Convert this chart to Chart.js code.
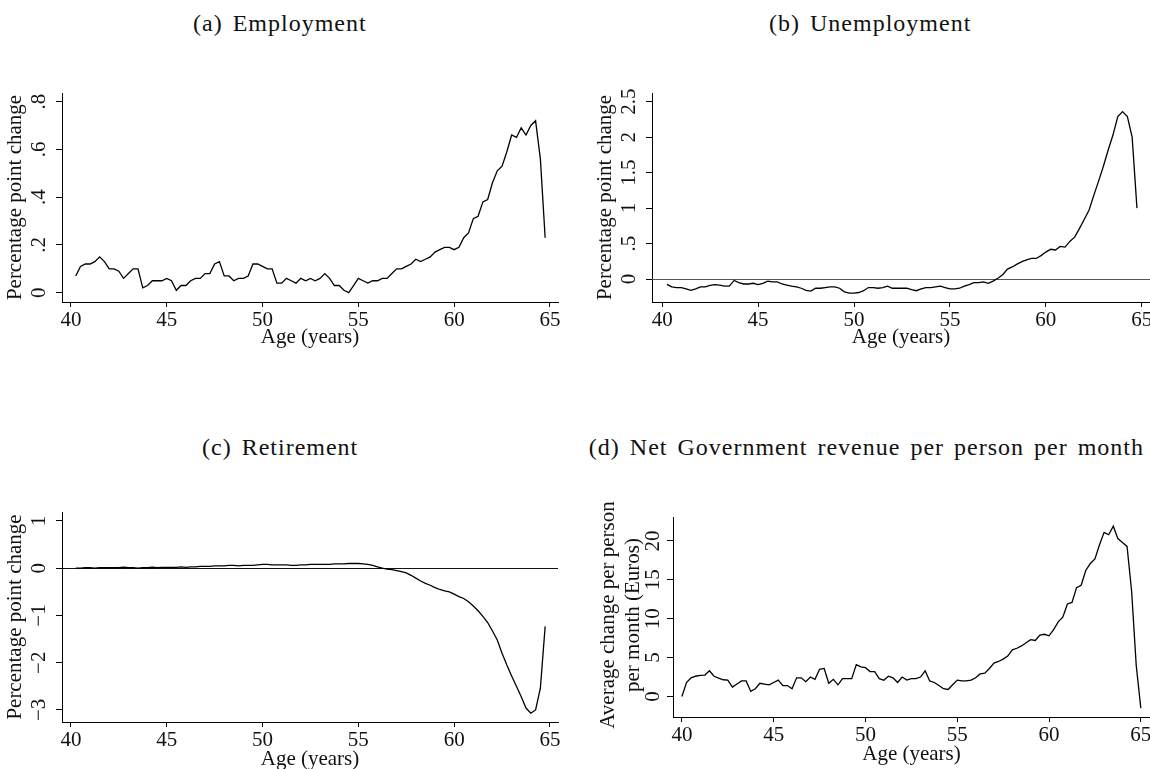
<!DOCTYPE html>
<html>
<head>
<meta charset="utf-8">
<script src="https://cdn.jsdelivr.net/npm/chart.js@4.4.0/dist/chart.umd.min.js"></script>
<style>
body{margin:0;background:#fff;width:1150px;height:769px;overflow:hidden;position:relative;font-family:"Liberation Serif",serif;}
.titulo{position:absolute;font-size:24px;letter-spacing:1px;word-spacing:3px;white-space:nowrap;color:#111;line-height:24px;}
.panel{position:absolute;}
</style>
</head>
<body>

<div class="titulo" id="tA" style="top:11px">(a) Employment</div>
<div class="titulo" id="tB" style="top:11px">(b) Unemployment</div>
<div class="titulo" id="tC" style="top:435px">(c) Retirement</div>
<div class="titulo" id="tD" style="top:435px;right:6px">(d) Net Government revenue per person per month</div>

<div class="panel" style="left:0px;top:73px;width:575px;height:289px"><canvas id="gA"></canvas></div>
<div class="panel" style="left:585px;top:73px;width:580px;height:289px"><canvas id="gB"></canvas></div>
<div class="panel" style="left:0px;top:490px;width:575px;height:292px"><canvas id="gC"></canvas></div>
<div class="panel" style="left:585px;top:490px;width:582px;height:287px"><canvas id="gD"></canvas></div>

<script>
// Edades (trimestral)
const edades = [40.25,40.5,40.75,41,41.25,41.5,41.75,42,42.25,42.5,42.75,43,43.25,43.5,43.75,44,44.25,44.5,44.75,45,
45.25,45.5,45.75,46,46.25,46.5,46.75,47,47.25,47.5,47.75,48,48.25,48.5,48.75,49,49.25,49.5,49.75,50,
50.25,50.5,50.75,51,51.25,51.5,51.75,52,52.25,52.5,52.75,53,53.25,53.5,53.75,54,54.25,54.5,54.75,55,
55.25,55.5,55.75,56,56.25,56.5,56.75,57,57.25,57.5,57.75,58,58.25,58.5,58.75,59,59.25,59.5,59.75,60,
60.25,60.5,60.75,61,61.25,61.5,61.75,62,62.25,62.5,62.75,63,63.25,63.5,63.75,64,64.25,64.5,64.75];

const edadesD = [40,40.25,40.5,40.75,41,41.25,41.5,41.75,42,42.25,42.5,42.75,43,43.25,43.5,43.75,44,44.25,44.5,44.75,45,
45.25,45.5,45.75,46,46.25,46.5,46.75,47,47.25,47.5,47.75,48,48.25,48.5,48.75,49,49.25,49.5,49.75,50,
50.25,50.5,50.75,51,51.25,51.5,51.75,52,52.25,52.5,52.75,53,53.25,53.5,53.75,54,54.25,54.5,54.75,55,
55.25,55.5,55.75,56,56.25,56.5,56.75,57,57.25,57.5,57.75,58,58.25,58.5,58.75,59,59.25,59.5,59.75,60,
60.25,60.5,60.75,61,61.25,61.5,61.75,62,62.25,62.5,62.75,63,63.25,63.5,63.75,64,64.25,64.5,64.75,65];

// Series
const empleo = [0.07,0.11,0.12,0.12,0.13,0.15,0.13,0.10,0.10,0.09,0.06,0.08,0.10,0.10,0.02,0.03,0.05,0.05,0.05,0.06,
0.05,0.01,0.03,0.03,0.05,0.06,0.06,0.08,0.08,0.12,0.13,0.07,0.07,0.05,0.06,0.06,0.07,0.12,0.12,0.11,
0.10,0.10,0.04,0.04,0.06,0.05,0.04,0.06,0.05,0.06,0.05,0.06,0.08,0.06,0.03,0.03,0.01,0.00,0.03,0.06,
0.05,0.04,0.05,0.05,0.06,0.06,0.08,0.10,0.10,0.11,0.12,0.14,0.13,0.14,0.15,0.17,0.18,0.19,0.19,0.18,
0.19,0.23,0.25,0.31,0.32,0.38,0.39,0.46,0.51,0.53,0.59,0.66,0.65,0.69,0.66,0.70,0.72,0.56,0.23];

const desempleo = [-0.075,-0.11,-0.12,-0.12,-0.14,-0.16,-0.14,-0.11,-0.11,-0.09,-0.08,-0.085,-0.10,-0.10,-0.02,-0.05,-0.07,-0.07,-0.06,-0.08,
-0.06,-0.03,-0.04,-0.04,-0.07,-0.085,-0.10,-0.11,-0.13,-0.16,-0.17,-0.13,-0.13,-0.12,-0.11,-0.11,-0.13,-0.18,-0.20,-0.20,
-0.19,-0.165,-0.12,-0.12,-0.13,-0.12,-0.10,-0.13,-0.13,-0.13,-0.13,-0.15,-0.165,-0.14,-0.12,-0.12,-0.11,-0.10,-0.12,-0.14,
-0.14,-0.13,-0.10,-0.08,-0.05,-0.05,-0.04,-0.06,-0.03,0.01,0.06,0.14,0.17,0.21,0.245,0.27,0.29,0.29,0.33,0.38,
0.42,0.41,0.46,0.45,0.53,0.59,0.71,0.84,0.97,1.18,1.38,1.59,1.82,2.03,2.29,2.36,2.29,2.00,1.00];

const jubilacion = [0.00,0.00,0.01,0.01,0.00,0.01,0.01,0.01,0.01,0.01,0.02,0.01,0.01,0.00,0.01,0.01,0.02,0.01,0.02,0.02,
0.02,0.02,0.03,0.02,0.03,0.03,0.04,0.04,0.04,0.05,0.05,0.05,0.06,0.06,0.05,0.06,0.06,0.06,0.07,0.08,
0.08,0.07,0.07,0.07,0.07,0.06,0.06,0.07,0.07,0.08,0.08,0.08,0.08,0.08,0.09,0.09,0.09,0.10,0.10,0.10,
0.09,0.08,0.06,0.03,0.00,-0.02,-0.03,-0.05,-0.07,-0.10,-0.15,-0.21,-0.27,-0.32,-0.36,-0.41,-0.45,-0.48,-0.50,-0.55,
-0.60,-0.64,-0.71,-0.80,-0.90,-1.02,-1.15,-1.33,-1.52,-1.80,-2.05,-2.28,-2.50,-2.72,-2.96,-3.07,-3.00,-2.54,-1.23];

const ingresos = [0.0,1.8,2.4,2.6,2.7,2.75,3.3,2.6,2.35,2.15,2.1,1.2,1.6,2.0,2.0,0.65,1.0,1.7,1.6,1.5,1.8,
2.1,1.4,1.4,1.0,2.4,2.4,1.9,2.5,2.2,3.5,3.6,1.7,2.2,1.5,2.3,2.3,2.3,4.1,3.8,3.7,
3.2,3.2,2.3,2.1,2.6,2.4,1.8,2.5,2.1,2.3,2.3,2.5,3.3,2.0,1.8,1.4,1.0,0.9,1.5,2.1,
2.0,2.0,2.1,2.4,2.9,3.0,3.6,4.3,4.5,4.8,5.2,6.0,6.2,6.5,6.9,7.3,7.2,7.9,8.0,7.8,
8.6,9.6,10.2,11.9,12.1,14.0,14.3,16.2,17.1,17.7,19.5,21.1,20.8,21.9,20.3,19.8,19.3,13.5,4.0,-1.5];

// Ticks
const ticksX = [40,45,50,55,60,65];
const etiquetasX = ['40','45','50','55','60','65'];
const ticksA = [0,0.2,0.4,0.6,0.8];
const etiquetasA = ['0','.2','.4','.6','.8'];
const ticksB = [0,0.5,1,1.5,2,2.5];
const etiquetasB = ['0','.5','1','1.5','2','2.5'];
const ticksC = [-3,-2,-1,0,1];
const etiquetasC = ['\u22123','\u22122','\u22121','0','1'];
const ticksD = [0,5,10,15,20];
const etiquetasD = ['0','5','10','15','20'];

const fuente = '"Liberation Serif", "Times New Roman", serif';

// Titulos centrados sobre cada columna
function centrar(id, cx){
let el = document.getElementById(id);
el.style.left = (cx - el.offsetWidth/2) + 'px';
}
centrar('tA', 280);
centrar('tB', 870);
centrar('tC', 280);

// Eje Y al estilo Stata: etiquetas giradas, titulo girado y linea de cero
const pluginY = {
id: 'pluginY',
beforeDatasetsDraw(chart, args, opts){
if(!opts.cero) return;
const ctx = chart.ctx, a = chart.chartArea;
const y0 = Math.round(chart.scales.y.getPixelForValue(0)) + 0.5;
ctx.save();
ctx.strokeStyle = opts.cero; ctx.lineWidth = 1;
ctx.beginPath(); ctx.moveTo(a.left, y0); ctx.lineTo(a.right, y0); ctx.stroke();
ctx.restore();
},
afterDraw(chart, args, opts){
const ctx = chart.ctx, a = chart.chartArea, ys = chart.scales.y;
ctx.save();
ctx.fillStyle = '#111';
ctx.font = '21px ' + fuente;
ctx.textAlign = 'center';
ctx.textBaseline = 'middle';
opts.valores.forEach((v, i) => {
ctx.save();
ctx.translate(a.left - opts.sep, ys.getPixelForValue(v));
ctx.rotate(-Math.PI/2);
ctx.fillText(opts.textos[i], 0, 0);
ctx.restore();
});
// titulo del eje
let medio = (a.top + a.bottom) / 2 + opts.dy;
opts.titulo.forEach((t, i) => {
ctx.save();
ctx.translate(a.left - opts.tx[i], medio);
ctx.rotate(-Math.PI/2);
ctx.fillText(t, 0, 0);
ctx.restore();
});
ctx.restore();
}
};

function grafico(id, xs, vals, c){
let puntos = xs.map((x, i) => ({x: x, y: vals[i]}));
return new Chart(document.getElementById(id), {
type: 'line',
data: {datasets: [{data: puntos, borderColor: '#000', borderWidth: 1.3, pointRadius: 0, tension: 0, fill: false}]},
options: {
responsive: true, maintainAspectRatio: false, animation: false,
layout: {padding: {top: c.pt, right: c.pr, bottom: 0, left: 0}},
plugins: {
legend: {display: false}, tooltip: {enabled: false},
pluginY: {valores: c.ticksY, textos: c.textosY, sep: c.sep, cero: c.cero, titulo: c.tituloY, tx: c.tx, dy: c.dy}
},
scales: {
x: {
type: 'linear', min: c.xmin, max: c.xmax,
afterBuildTicks: s => { s.ticks = ticksX.map(v => ({value: v})); },
afterFit: s => { s.height = c.hx; },
grid: {display: true, drawOnChartArea: false, drawTicks: true, tickLength: 5, color: '#000'},
border: {display: true, color: '#000', width: 1},
ticks: {font: {family: fuente, size: 21}, color: '#111', padding: 1, maxRotation: 0, autoSkip: false,
callback: (v, i) => etiquetasX[i]},
title: {display: true, text: 'Age (years)', color: '#111', font: {family: fuente, size: 21, lineHeight: 1.2},
padding: {top: 0, bottom: c.pbx}}
},
y: {
min: c.ymin, max: c.ymax,
afterBuildTicks: s => { s.ticks = c.ticksY.map(v => ({value: v})); },
afterFit: s => { s.width = c.wy; },
grid: {display: true, drawOnChartArea: false, drawTicks: true, tickLength: 6, color: '#000'},
border: {display: true, color: '#000', width: 1},
ticks: {display: false}
}
}
},
plugins: [pluginY]
});
}

grafico('gA', edades, empleo, {xmin: 39.535, xmax: 65.42, ymin: -0.039, ymax: 0.836, ticksY: ticksA, textosY: etiquetasA,
wy: 62, hx: 60, pt: 20, pr: 17, pbx: 12, sep: 23, tx: [47], dy: 0, tituloY: ['Percentage point change']});
grafico('gB', edades, desempleo, {xmin: 39.47, xmax: 65.43, ymin: -0.324, ymax: 2.623, ticksY: ticksB, textosY: etiquetasB,
wy: 67, hx: 60, pt: 20, pr: 15, pbx: 12, sep: 23, tx: [47], dy: 0, tituloY: ['Percentage point change'], cero: '#555'});
grafico('gC', edades, jubilacion, {xmin: 39.535, xmax: 65.42, ymin: -3.255, ymax: 1.19, ticksY: ticksC, textosY: etiquetasC,
wy: 62, hx: 60, pt: 22, pr: 17, pbx: 10, sep: 23, tx: [47], dy: 0, tituloY: ['Percentage point change'], cero: '#111'});
grafico('gD', edadesD, ingresos, {xmin: 39.515, xmax: 65.5, ymin: -2.64, ymax: 23.08, ticksY: ticksD, textosY: etiquetasD,
wy: 88, hx: 60, pt: 27, pr: 17, pbx: 10, sep: 20, tx: [65, 40], dy: -2, tituloY: ['Average change per person', 'per month (Euros)']});
</script>
</body>
</html>
